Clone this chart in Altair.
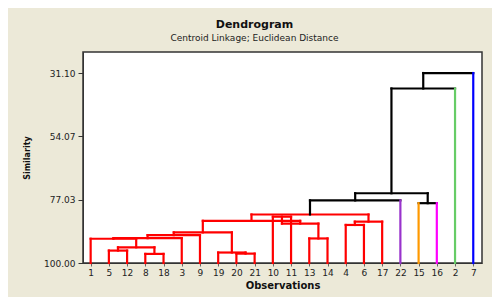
import altair as alt
import pandas as pd

# Leaf order along the x axis and the colour of each leaf branch
leaf_order = [1, 5, 12, 8, 18, 3, 9, 19, 20, 21, 10, 11, 13, 14, 4, 6, 17, 22, 15, 16, 2, 7]
leaf_colors = ["#FF0000"] * 17 + ["#9933CC", "#FF9900", "#FF00FF", "#66CC66", "#0000FF"]

# Merges: child a, child b, similarity level (node k is named "m{k}")
merge_a = ["5", "8", "m0", "1", "m3", "m4", "20", "19", "m5", "10", "13",
           "m9", "m8", "4", "m13", "m12", "m15", "15", "m16", "m18", "m19"]
merge_b = ["12", "18", "m1", "m2", "3", "9", "21", "m6", "m7", "11", "14",
           "m10", "m11", "6", "17", "m14", "22", "16", "m17", "2", "7"]
merge_sim = [95.5, 96.7, 94.3, 91.2, 91.0, 89.9, 96.6, 96.2, 88.9, 83.2, 91.1,
             85.7, 84.7, 86.2, 85.0, 82.4, 77.3, 78.3, 74.7, 36.7, 31.1]

y_ticks = [31.10, 54.07, 77.03, 100.00]

RED = "#FF0000"
BLACK = "#000000"

pos, hgt, col, is_leaf = {}, {}, {}, {}
for i, (leaf, c) in enumerate(zip(leaf_order, leaf_colors)):
    k = str(leaf)
    pos[k] = i + 1
    hgt[k] = 100.0
    col[k] = c
    is_leaf[k] = True

rows = []
for k, (a, b, s) in enumerate(zip(merge_a, merge_b, merge_sim)):
    node = f"m{k}"
    allred = col[a] == RED and col[b] == RED
    c = RED if allred else BLACK
    pos[node] = (pos[a] + pos[b]) / 2
    hgt[node] = s
    col[node] = c
    is_leaf[node] = False
    rows.append(dict(x=pos[a], y=s, x2=pos[b], y2=s, color=c))
    for ch in (a, b):
        vc = col[ch] if is_leaf[ch] else c
        rows.append(dict(x=pos[ch], y=hgt[ch], x2=pos[ch], y2=s, color=vc))

df = pd.DataFrame(rows)

label_expr = "[" + ",".join(f"'{v}'" for v in leaf_order) + "][datum.value - 1]"

chart = alt.Chart(df).mark_rule(strokeWidth=2.2, strokeCap="square").encode(
    x=alt.X("x:Q",
            scale=alt.Scale(domain=[0.58, 22.48], nice=False, zero=False),
            axis=alt.Axis(values=list(range(1, 23)), labelExpr=label_expr,
                          title="Observations", grid=False, tickSize=3,
                          labelPadding=2, titlePadding=3, labelFontSize=9,
                          titleFontSize=10, titleFontWeight="bold",
                          labelColor="#222222", titleColor="#111111",
                          domainColor="#333333", tickColor="#666666")),
    x2="x2:Q",
    y=alt.Y("y:Q",
            scale=alt.Scale(domain=[100, 23.47], nice=False, zero=False),
            axis=alt.Axis(values=y_ticks, format=".2f", title="Similarity",
                          grid=False, tickSize=5, labelPadding=3,
                          titlePadding=12, labelFontSize=9, titleFontSize=8,
                          titleFontWeight="bold", labelColor="#222222",
                          titleColor="#111111", domainColor="#333333",
                          tickColor="#333333")),
    y2="y2:Q",
    color=alt.Color("color:N", scale=None),
).properties(
    width=399,
    height=211,
    autosize=alt.AutoSizeParams(type="none"),
    padding={"left": 75, "top": 44, "right": 10, "bottom": 34},
    background="#ECE9D8",
    title=alt.Title("Dendrogram", subtitle="Centroid Linkage; Euclidean Distance",
                    fontSize=11, fontWeight="bold", subtitleFontSize=9,
                    color="#111111", subtitleColor="#222222",
                    anchor="middle", dx=-28, offset=9, subtitlePadding=4),
).configure(
    font="DejaVu Sans"
).configure_view(
    stroke="#333333", strokeWidth=1.5, fill="white"
)

chart.save("out.html", embed_options={"renderer": "svg", "actions": False})
